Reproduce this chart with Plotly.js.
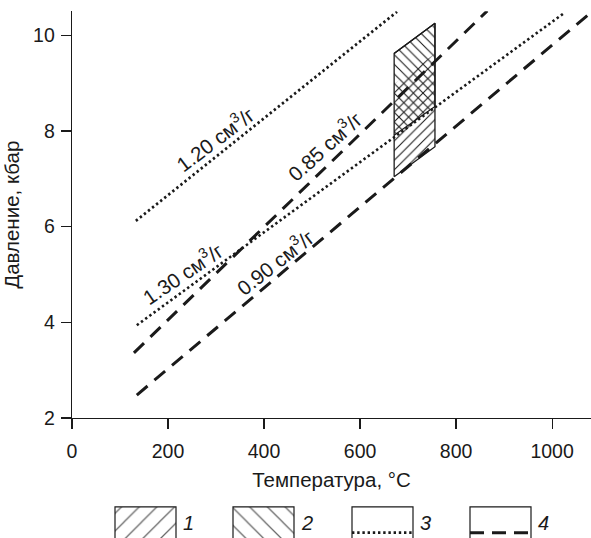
<!DOCTYPE html>
<html>
<head>
<meta charset="utf-8">
<script src="https://cdn.plot.ly/plotly-3.0.1.min.js"></script>
<style>html,body{margin:0;padding:0;background:#fff;}#chart{width:591px;height:538px;}</style>
</head>
<body>
<div id="chart"></div>
<script>
// ---- data (temperature °C, pressure kbar) ----
const isochoreNames = ['1.20 см<sup>3</sup>/г', '1.30 см<sup>3</sup>/г', '0.85 см<sup>3</sup>/г', '0.90 см<sup>3</sup>/г'];
const t120 = [133, 677];  const p120 = [6.12, 10.49];
const t130 = [135, 1026]; const p130 = [3.94, 10.47];
const t085 = [129, 865];  const p085 = [3.36, 10.51];
const t090 = [135, 1079]; const p090 = [2.48, 10.46];

// hatched fields
const field1T = [671, 756, 756, 671]; const field1P = [7.04, 7.67, 9.62, 8.98];
const field2T = [671, 756, 756, 671]; const field2P = [7.91, 8.51, 10.25, 9.62];
const boxT = [671, 756, 756, 671, 671]; const boxP = [7.04, 7.67, 10.25, 9.62, 7.04];

// label anchor points (temperature, pressure) and angles
const labelT = [296, 230, 525, 421];
const labelP = [7.84, 5.02, 7.68, 5.27];
const labelAngle = [-37, -34, -42, -38];

const xTicks = [0, 200, 400, 600, 800, 1000];
const yTicks = [2, 4, 6, 8, 10];
const legendKeys = ['1', '2', '3', '4'];

// ---- styles ----
const FONT = 'Liberation Sans, Arial, sans-serif';
const INK = '#1a1a1a';
const dotted = {color: INK, width: 2.6, dash: '2.4px,2.8px'};
const dashed = {color: INK, width: 3, dash: '14px,9px'};

const traces = [];
function line(t, p, style) {
  traces.push({type: 'scatter', mode: 'lines', x: t, y: p, line: style, hoverinfo: 'skip', showlegend: false});
}
line(t120, p120, dotted);
line(t130, p130, dotted);
line(t085, p085, dashed);
line(t090, p090, dashed);

// field 1 (/ hatching), no outline on its upper side
traces.push({type: 'scatter', mode: 'none', x: field1T, y: field1P, fill: 'toself',
  fillcolor: 'rgba(0,0,0,0)',
  fillpattern: {shape: '/', size: 6.8, solidity: 0.16, fgcolor: INK, bgcolor: 'rgba(0,0,0,0)'},
  hoverinfo: 'skip', showlegend: false});
// field 2 (\ hatching) with outline
traces.push({type: 'scatter', mode: 'lines', x: field2T, y: field2P, fill: 'toself',
  fillcolor: 'rgba(0,0,0,0)', line: {color: INK, width: 1.3},
  fillpattern: {shape: '\\', size: 6.8, solidity: 0.16, fgcolor: INK, bgcolor: 'rgba(0,0,0,0)'},
  hoverinfo: 'skip', showlegend: false});
// outer outline
traces.push({type: 'scatter', mode: 'lines', x: boxT, y: boxP, line: {color: INK, width: 1.3},
  hoverinfo: 'skip', showlegend: false});

// ---- legend drawn on a helper subplot ----
const legX0 = [115, 233, 352, 470];
const legW = 61;
const legTop = 0.93, legBot = -1, legLineY = 0.16;
const legPatterns = ['/', '\\', null, null];
legendKeys.forEach((k, i) => {
  const x0 = legX0[i], x1 = x0 + legW;
  const tr = {type: 'scatter', mode: 'lines', xaxis: 'x2', yaxis: 'y2',
    x: [x0, x1, x1, x0, x0], y: [legBot, legBot, legTop, legTop, legBot],
    line: {color: INK, width: 1.2}, hoverinfo: 'skip', showlegend: false};
  if (legPatterns[i]) {
    tr.fill = 'toself';
    tr.fillcolor = 'rgba(0,0,0,0)';
    tr.fillpattern = {shape: legPatterns[i], size: 12.5, solidity: 0.1, fgcolor: '#666', bgcolor: 'rgba(0,0,0,0)'};
  }
  traces.push(tr);
  if (i === 2) traces.push({type: 'scatter', mode: 'lines', xaxis: 'x2', yaxis: 'y2',
    x: [x0, x1], y: [legLineY, legLineY], line: {color: INK, width: 2.6, dash: '2.4px,2.8px'}, hoverinfo: 'skip', showlegend: false});
  if (i === 3) traces.push({type: 'scatter', mode: 'lines', xaxis: 'x2', yaxis: 'y2',
    x: [x0, x1], y: [legLineY, legLineY], line: {color: INK, width: 3, dash: '14px,8px'}, hoverinfo: 'skip', showlegend: false});
});

const annotations = isochoreNames.map((txt, i) => ({
  text: txt, x: labelT[i], y: labelP[i], xref: 'x', yref: 'y', showarrow: false,
  textangle: labelAngle[i], font: {family: FONT, size: 20.5, color: INK}
}));
legendKeys.forEach((k, i) => {
  annotations.push({text: '<i>' + k + '</i>', x: legX0[i] + legW + 5, y: 0.45, xref: 'x2', yref: 'y2',
    xanchor: 'left', showarrow: false, font: {family: FONT, size: 20, color: INK}});
});

const layout = {
  width: 591, height: 538,
  margin: {l: 0, r: 0, t: 0, b: 0},
  paper_bgcolor: '#fff', plot_bgcolor: 'rgba(0,0,0,0)',
  showlegend: false,
  font: {family: FONT, size: 19, color: INK},
  xaxis: {
    domain: [72 / 591, 1], range: [0, 1081], anchor: 'y',
    showgrid: false, zeroline: false, showline: true, linecolor: INK, linewidth: 1.3,
    ticks: 'outside', ticklen: 10, tickwidth: 1.2, tickcolor: INK, ticklabelstandoff: 5,
    tickvals: xTicks, ticktext: xTicks.map(String),
    tickfont: {family: FONT, size: 19.5, color: INK},
    title: {text: 'Температура, °C', font: {family: FONT, size: 20.5, color: INK}, standoff: 12}
  },
  yaxis: {
    domain: [120 / 538, (538 - 11.3) / 538], range: [2, 10.5], anchor: 'x',
    showgrid: false, zeroline: false, showline: true, linecolor: INK, linewidth: 1.3,
    ticks: 'outside', ticklen: 10, tickwidth: 1.2, tickcolor: INK, ticklabelstandoff: 2,
    tickvals: yTicks, ticktext: yTicks.map(String),
    tickfont: {family: FONT, size: 19.5, color: INK},
    title: {text: 'Давление, кбар', font: {family: FONT, size: 20.5, color: INK}, standoff: 9}
  },
  xaxis2: {domain: [0, 1], range: [0, 591], anchor: 'y2', visible: false, fixedrange: true},
  yaxis2: {domain: [0, 33.4 / 538], range: [0, 1], anchor: 'x2', visible: false, fixedrange: true},
  annotations: annotations
};

Plotly.newPlot('chart', traces, layout, {displayModeBar: false, staticPlot: true});
</script>
</body>
</html>
